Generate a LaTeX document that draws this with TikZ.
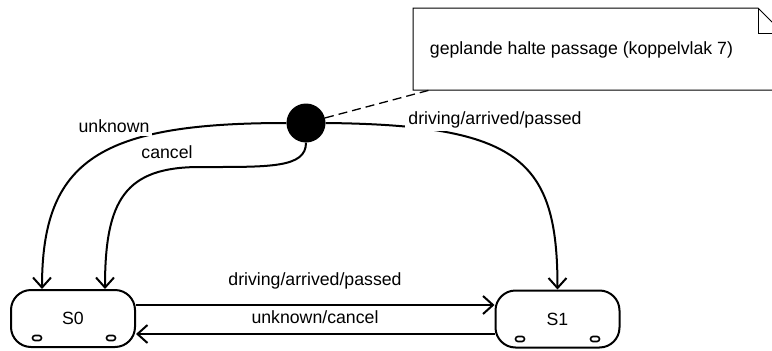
\documentclass[tikz,border=0pt]{standalone}
\usepackage{fontspec}
\setmainfont{Liberation Sans}
\usetikzlibrary{arrows.meta,calc}
\begin{document}
\begin{tikzpicture}[x=1pt,y=-1pt,
  every node/.style={font=\fontsize{17.7}{21}\selectfont},
  state/.style={draw, line width=2pt, rounded corners=20pt, minimum width=124pt, minimum height=57pt, inner sep=0pt},
  oval/.style={draw, line width=1.6pt, rounded corners=2.5pt, minimum width=9pt, minimum height=5pt, inner sep=0pt},
  trans/.style={line width=2pt, -{Straight Barb[length=10pt,width=18pt,line width=2pt]}},
  lbl/.style={fill=white, inner sep=3pt},
  notebox/.style={line width=1pt},
  anchorline/.style={line width=1.3pt, dash pattern=on 9pt off 5pt}]
\clip (0,0) rectangle (772,351);
\fill[white] (0,0) rectangle (772,351);
% note
\draw[notebox] (413,8) -- (758,8) -- (783,33) -- (783,90) -- (413,90) -- cycle;
\draw[notebox] (758,8) -- (758,33) -- (783,33);
\node (notetext) at (581.5,50) {geplande halte passage (koppelvlak 7)};
\coordinate (notecorner) at (430,90);
% states
\node[state] (S0) at (73,318.5) {S0};
\node[state] (S1) at (557.5,319) {S1};
\node[oval] (S0a) at (37,338) {};
\node[oval] (S0b) at (111,338) {};
\node[oval] (S1a) at (520,339) {};
\node[oval] (S1b) at (595,339) {};
% initial
\node[circle, fill=black, minimum size=39pt, inner sep=0pt] (dot) at (306,123) {};
\draw[anchorline] (dot) -- (notecorner);
% curves
\draw[trans] (dot.west) .. controls (100,123) and (42,160) .. ($(S0.north)+(-31,0)$);
\draw[trans] (dot.south) .. controls (306,168) and (270,167) .. (200,167)
  .. controls (125,167) and (105,200) .. ($(S0.north)+(32,0)$);
\draw[trans] (dot.east) .. controls (520,125) and (557.5,160) .. (S1.north);
% horizontal transitions
\draw[trans] ([yshift=13.5pt]S0.east) -- ([yshift=14pt]S1.west);
\draw[trans] ([yshift=-15pt]S1.west) -- ([yshift=-15.5pt]S0.east);
% labels
\node[lbl] (l1) at (114,126) {unknown};
\node (l2) at (167,152) {cancel};
\node[lbl] (l3) at (495,120) {driving/arrived/passed};
\node (l4) at (315,281) {driving/arrived/passed};
\node (l5) at (315,317) {unknown/cancel};
\end{tikzpicture}
\end{document}
